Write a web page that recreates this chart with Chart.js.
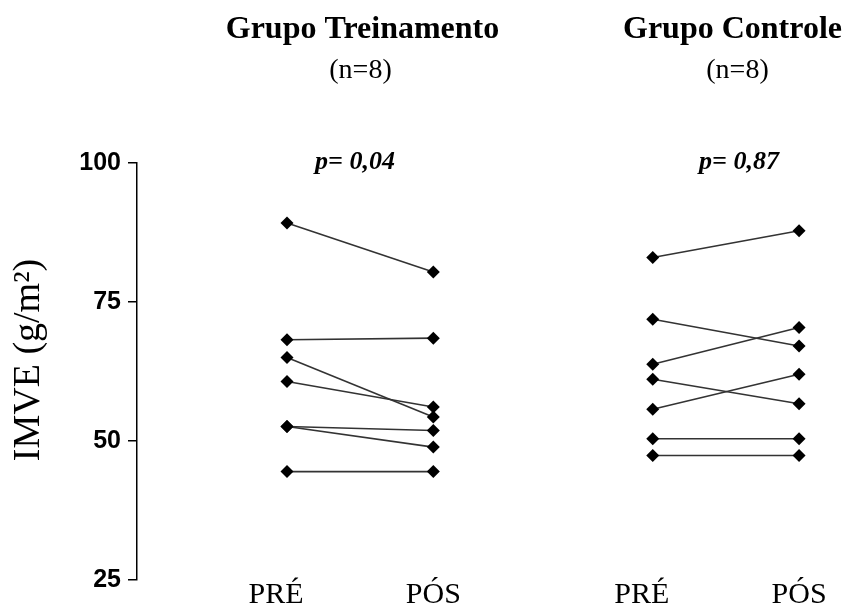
<!DOCTYPE html>
<html>
<head>
<meta charset="utf-8">
<script src="https://cdn.jsdelivr.net/npm/chart.js@4"></script>
<style>
  html, body { margin: 0; padding: 0; background: #fff; }
  #wrap { width: 845px; height: 606px; position: relative; }
</style>
</head>
<body>
<div id="wrap"><canvas id="c" width="845" height="606"></canvas></div>
<script>
// IMVE before and after, per subject, in the two groups
const groups = ['Grupo Treinamento', 'Grupo Controle'];
const groupSizes = ['(n=8)', '(n=8)'];
const pValues = ['p= 0,04', 'p= 0,87'];
const phaseLabels = ['PRÉ', 'PÓS'];
const yTicks = [25, 50, 75, 100];

const treinoPre = [89.2, 68.2, 65.0, 60.7, 52.6, 52.6, 44.5];
const treinoPos = [80.4, 68.5, 54.3, 56.1, 51.9, 48.9, 44.5];
const controlePre = [83.0, 71.9, 63.8, 61.1, 55.7, 50.4, 47.4];
const controlePos = [87.8, 67.1, 70.4, 56.7, 62.0, 50.4, 47.4];

// x slots of PRÉ / PÓS for each group
const groupX = [[1, 2], [3.5, 4.5]];
// PRÉ labels sit a little left of their column
const preLabelShift = -0.075;

const serif = '"Liberation Serif", "Times New Roman", serif';
const sans = '"Liberation Sans", Arial, sans-serif';

function pairDatasets(pre, pos, xs) {
  return pre.map((v, i) => ({
    data: [{ x: xs[0], y: v }, { x: xs[1], y: pos[i] }],
    borderColor: '#333',
    borderWidth: 1.6,
    pointStyle: 'rectRot',
    pointRadius: 6.5,
    pointBackgroundColor: '#000',
    pointBorderColor: '#000',
    pointBorderWidth: 0,
    showLine: true,
    fill: false
  }));
}

const datasets = [
  ...pairDatasets(treinoPre, treinoPos, groupX[0]),
  ...pairDatasets(controlePre, controlePos, groupX[1])
];

// Headers, p-values, axis title and the PRÉ/PÓS category labels
const textPlugin = {
  id: 'texts',
  afterDraw(chart) {
    const ctx = chart.ctx;
    const xs = chart.scales.x;
    ctx.save();
    ctx.fillStyle = '#000';
    ctx.textAlign = 'center';
    ctx.textBaseline = 'alphabetic';
    const titleX = [362.5, 732.5];
    const sizeX = [360.5, 737.5];
    const pX = [355, 739];
    groups.forEach((g, i) => {
      ctx.font = 'bold 32px ' + serif;
      ctx.fillText(g, titleX[i], 38);
      ctx.font = '28px ' + serif;
      ctx.fillText(groupSizes[i], sizeX[i], 78);
      ctx.font = 'italic bold 26px ' + serif;
      ctx.fillText(pValues[i], pX[i], 169);
    });
    ctx.font = '30px ' + serif;
    groupX.forEach(pair => {
      ctx.fillText(phaseLabels[0], xs.getPixelForValue(pair[0] + preLabelShift), 603);
      ctx.fillText(phaseLabels[1], xs.getPixelForValue(pair[1]), 603);
    });
    // y axis title
    ctx.translate(39, 360);
    ctx.rotate(-Math.PI / 2);
    ctx.font = '38px ' + serif;
    ctx.fillText('IMVE (g/m²)', 0, 0);
    ctx.restore();
  }
};

new Chart(document.getElementById('c'), {
  type: 'scatter',
  data: { datasets },
  options: {
    responsive: false,
    animation: false,
    layout: { padding: { top: 163, right: 15, left: 0, bottom: 0 } },
    plugins: { legend: { display: false }, tooltip: { enabled: false } },
    scales: {
      x: {
        type: 'linear',
        min: -0.0253,
        max: 4.7115,
        afterFit(scale) { scale.height = 26; },
        grid: { display: false, drawTicks: false },
        border: { display: false },
        ticks: { display: false }
      },
      y: {
        min: 25,
        max: 100,
        afterBuildTicks(scale) { scale.ticks = yTicks.map(v => ({ value: v })); },
        afterFit(scale) { scale.width = 137; },
        grid: { drawOnChartArea: false, drawTicks: true, tickLength: 9, color: '#000', lineWidth: 1.5 },
        border: { display: true, color: '#000', width: 1.5 },
        ticks: {
          padding: 7,
          color: '#000',
          font: { family: sans, size: 25, weight: 'bold' }
        }
      }
    }
  },
  plugins: [textPlugin]
});
</script>
</body>
</html>
